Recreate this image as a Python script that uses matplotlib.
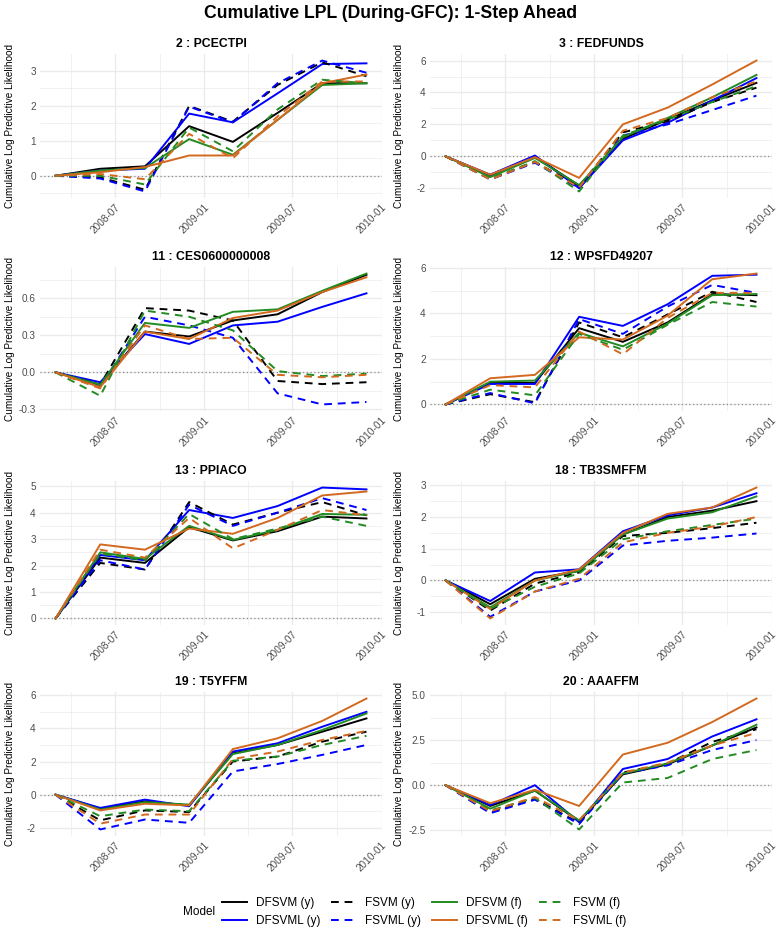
import matplotlib
matplotlib.use("Agg")
import numpy as np
import pandas as pd
import matplotlib.pyplot as plt
from matplotlib.lines import Line2D

plt.rcParams["font.family"] = ["Liberation Sans", "DejaVu Sans"]

# quarterly evaluation dates
dates = pd.to_datetime(["2008-03-01", "2008-06-01", "2008-09-01", "2008-12-01",
                        "2009-03-01", "2009-06-01", "2009-09-01", "2009-12-01"])

models = ["DFSVM (y)", "DFSVML (y)", "FSVM (y)", "FSVML (y)",
          "DFSVM (f)", "DFSVML (f)", "FSVM (f)", "FSVML (f)"]

# cumulative LPL per panel, one row per model (same order as `models`)
lpl_pcectpi = [
    [0, 0.20, 0.27, 1.42, 0.97, 1.80, 2.65, 2.65],
    [0, 0.15, 0.20, 1.78, 1.53, 2.36, 3.20, 3.22],
    [0, -0.05, -0.40, 2.00, 1.55, 2.60, 3.25, 2.85],
    [0, -0.08, -0.45, 1.98, 1.53, 2.65, 3.30, 2.95],
    [0, 0.15, 0.22, 1.05, 0.60, 1.60, 2.60, 2.65],
    [0, 0.10, 0.25, 0.58, 0.58, 1.60, 2.65, 2.90],
    [0, 0.00, -0.25, 1.38, 0.70, 1.90, 2.75, 2.65],
    [0, 0.05, -0.10, 1.20, 0.50, 1.70, 2.70, 2.70],
]
lpl_fedfunds = [
    [0, -1.20, 0.00, -1.85, 1.10, 2.30, 3.50, 4.60],
    [0, -1.15, 0.05, -2.00, 1.00, 2.10, 3.50, 4.90],
    [0, -1.40, -0.35, -1.90, 1.50, 2.20, 3.40, 4.30],
    [0, -1.45, -0.40, -2.00, 1.30, 2.00, 2.90, 3.80],
    [0, -1.30, -0.10, -1.80, 1.20, 2.40, 3.70, 5.10],
    [0, -1.15, -0.05, -1.35, 2.00, 3.05, 4.50, 6.00],
    [0, -1.40, -0.30, -2.20, 1.30, 2.30, 3.40, 4.40],
    [0, -1.45, -0.35, -1.95, 1.60, 2.40, 3.70, 4.70],
]
lpl_ces = [
    [0, -0.10, 0.33, 0.29, 0.42, 0.47, 0.65, 0.79],
    [0, -0.08, 0.31, 0.23, 0.38, 0.41, 0.53, 0.64],
    [0, -0.10, 0.52, 0.50, 0.42, -0.07, -0.095, -0.08],
    [0, -0.12, 0.45, 0.38, 0.28, -0.17, -0.26, -0.24],
    [0, -0.10, 0.40, 0.36, 0.49, 0.51, 0.66, 0.80],
    [0, -0.12, 0.33, 0.27, 0.44, 0.50, 0.65, 0.77],
    [0, -0.19, 0.50, 0.45, 0.34, 0.01, -0.03, -0.01],
    [0, -0.13, 0.38, 0.27, 0.28, -0.02, -0.04, -0.02],
]
lpl_wpsfd = [
    [0, 0.95, 0.95, 3.35, 2.75, 3.60, 4.85, 4.80],
    [0, 0.90, 0.90, 3.85, 3.45, 4.40, 5.65, 5.70],
    [0, 0.45, 0.10, 3.60, 2.95, 3.95, 4.95, 4.50],
    [0, 0.50, 0.05, 3.75, 3.10, 4.30, 5.25, 4.90],
    [0, 1.00, 1.05, 3.15, 2.55, 3.55, 4.80, 4.85],
    [0, 1.15, 1.30, 2.95, 2.85, 3.90, 5.50, 5.75],
    [0, 0.65, 0.40, 3.10, 2.40, 3.50, 4.50, 4.30],
    [0, 0.85, 0.75, 3.20, 2.20, 3.80, 4.90, 4.90],
]
lpl_ppiaco = [
    [0, 2.30, 2.10, 3.45, 2.95, 3.30, 3.85, 3.78],
    [0, 2.40, 2.20, 4.10, 3.80, 4.25, 4.95, 4.88],
    [0, 2.10, 1.85, 4.40, 3.55, 4.00, 4.40, 3.90],
    [0, 2.20, 1.85, 4.30, 3.50, 4.00, 4.55, 4.10],
    [0, 2.50, 2.25, 3.50, 2.97, 3.35, 3.95, 3.92],
    [0, 2.80, 2.60, 3.40, 3.20, 3.80, 4.65, 4.80],
    [0, 2.45, 2.20, 3.95, 3.00, 3.40, 3.85, 3.50],
    [0, 2.60, 2.30, 3.80, 2.65, 3.35, 4.10, 3.90],
]
lpl_tb3smffm = [
    [0, -0.75, 0.05, 0.30, 1.45, 2.00, 2.20, 2.50],
    [0, -0.65, 0.25, 0.35, 1.55, 2.05, 2.30, 2.75],
    [0, -0.95, -0.10, 0.25, 1.40, 1.50, 1.65, 1.82],
    [0, -1.15, -0.35, 0.00, 1.10, 1.25, 1.35, 1.48],
    [0, -0.85, 0.00, 0.30, 1.45, 1.95, 2.15, 2.65],
    [0, -0.90, 0.00, 0.35, 1.50, 2.10, 2.30, 2.93],
    [0, -0.90, -0.20, 0.22, 1.30, 1.55, 1.75, 1.95],
    [0, -1.20, -0.35, 0.05, 1.20, 1.50, 1.70, 2.00],
]
lpl_t5yffm = [
    [0, -0.85, -0.40, -0.65, 2.50, 3.00, 3.80, 4.60],
    [0, -0.80, -0.30, -0.70, 2.60, 3.10, 4.10, 5.00],
    [0, -1.55, -0.95, -1.05, 2.00, 2.30, 3.20, 3.80],
    [0, -2.10, -1.50, -1.70, 1.40, 1.85, 2.40, 3.00],
    [0, -0.90, -0.45, -0.60, 2.45, 3.00, 3.90, 4.90],
    [0, -0.95, -0.55, -0.65, 2.75, 3.40, 4.45, 5.80],
    [0, -1.30, -0.90, -1.00, 2.05, 2.30, 3.00, 3.55],
    [0, -1.75, -1.20, -1.20, 2.15, 2.60, 3.30, 3.85],
]
lpl_aaaffm = [
    [0, -1.15, -0.30, -2.00, 0.60, 1.15, 2.20, 3.20],
    [0, -1.10, 0.00, -2.05, 0.90, 1.45, 2.70, 3.65],
    [0, -1.50, -0.75, -2.10, 0.70, 1.20, 2.40, 3.10],
    [0, -1.55, -0.80, -2.15, 0.65, 1.10, 1.95, 2.50],
    [0, -1.30, -0.30, -1.95, 0.65, 1.20, 2.20, 3.35],
    [0, -1.00, -0.25, -1.15, 1.70, 2.35, 3.50, 4.80],
    [0, -1.40, -0.70, -2.45, 0.15, 0.40, 1.45, 1.95],
    [0, -1.45, -0.65, -1.95, 0.70, 1.25, 2.20, 2.90],
]

panel_titles = ["2 : PCECTPI", "3 : FEDFUNDS", "11 : CES0600000008", "12 : WPSFD49207",
                "13 : PPIACO", "18 : TB3SMFFM", "19 : T5YFFM", "20 : AAAFFM"]
panel_data = [lpl_pcectpi, lpl_fedfunds, lpl_ces, lpl_wpsfd,
              lpl_ppiaco, lpl_tb3smffm, lpl_t5yffm, lpl_aaaffm]
panel_yticks = [[0, 1, 2, 3], [-2, 0, 2, 4, 6], [-0.3, 0.0, 0.3, 0.6], [0, 2, 4, 6],
                [0, 1, 2, 3, 4, 5], [-1, 0, 1, 2, 3], [-2, 0, 2, 4, 6], [-2.5, 0.0, 2.5, 5.0]]
panel_decimals = [0, 0, 1, 0, 0, 0, 0, 1]

xtick_dates = pd.to_datetime(["2008-01-01", "2008-07-01", "2009-01-01", "2009-07-01", "2010-01-01"])
xminor_dates = pd.to_datetime(["2008-04-01", "2008-10-01", "2009-04-01", "2009-10-01"])


def style(m):
    base, kind = m.split(" ")
    if kind == "(y)":
        col = "black" if base in ("DFSVM", "FSVM") else "#0000FF"
    else:
        col = "#228B22" if base in ("DFSVM", "FSVM") else "#D2691E"
    ls = "-" if base.startswith("DF") else (0, (4, 3))
    return col, ls


fig = plt.figure(figsize=(7.81, 9.35), dpi=100)
W, H = 781, 935
col_x = [40 / W, 430 / W]
ax_w = 342 / W
row_bottom = [1 - 198 / H, 1 - 411 / H, 1 - 625 / H, 1 - 836 / H]
ax_h = 144 / H
label_x = [(10 - 40) / 342, (399 - 430) / 342]
grid_col = "#EBEBEB"
text_col = "#4D4D4D"

span = dates[-1] - dates[0]
xlim = (dates[0] - 0.05 * span, dates[-1] + 0.05 * span)

for i, (title, data) in enumerate(zip(panel_titles, panel_data)):
    r, c = divmod(i, 2)
    ax = fig.add_axes([col_x[c], row_bottom[r], ax_w, ax_h])
    ax.axhline(0, color="#8C8C8C", ls=(0, (1, 2)), lw=0.9, zorder=1.5)
    for m, vals in zip(models, data):
        col, ls = style(m)
        ax.plot(dates, vals, color=col, lw=1.4, ls=ls, zorder=2)

    arr = np.array(data, dtype=float)
    lo, hi = arr.min(), arr.max()
    pad = 0.05 * (hi - lo)
    yt = panel_yticks[i]
    step = yt[1] - yt[0]
    minor = [yt[0] - step / 2] + [t + step / 2 for t in yt]
    ax.set_yticks(yt)
    ax.set_yticklabels([f"{t:.{panel_decimals[i]}f}" for t in yt])
    ax.set_yticks(minor, minor=True)
    ax.set_ylim(lo - pad, hi + pad)

    ax.set_xticks(xtick_dates)
    ax.set_xticklabels([d.strftime("%Y-%m") for d in xtick_dates],
                       rotation=45, ha="right", rotation_mode="anchor")
    ax.set_xticks(xminor_dates, minor=True)
    ax.set_xlim(xlim)

    ax.grid(True, which="major", color=grid_col, lw=1.0, zorder=0)
    ax.grid(True, which="minor", color=grid_col, lw=0.5, zorder=0)
    ax.set_axisbelow(True)
    for s in ax.spines.values():
        s.set_visible(False)
    ax.tick_params(which="both", length=0, labelsize=7.2, labelcolor=text_col, pad=3)
    ax.set_ylabel("Cumulative Log Predictive Likelihood", fontsize=7.2, va="center")
    ax.yaxis.set_label_coords(label_x[c], 0.5)
    ax.set_title(title, fontsize=8.8, fontweight="bold", pad=5)

fig.text(0.5, 1 - 14 / H, "Cumulative LPL (During-GFC): 1-Step Ahead",
         ha="center", va="center", fontsize=12.7, fontweight="bold")

handles = []
for m in models:
    col, ls = style(m)
    handles.append(Line2D([], [], color=col, lw=1.4, ls=ls))
fig.legend(handles, models, ncol=4, loc="center", bbox_to_anchor=(424 / W, 1 - 912 / H),
           frameon=False, fontsize=8.5, handlelength=2.1, handletextpad=0.8,
           columnspacing=0.9, labelspacing=0.55)
fig.text(183 / W, 1 - 912 / H, "Model", ha="left", va="center", fontsize=8.5)

fig.savefig("out.png", dpi=100)
